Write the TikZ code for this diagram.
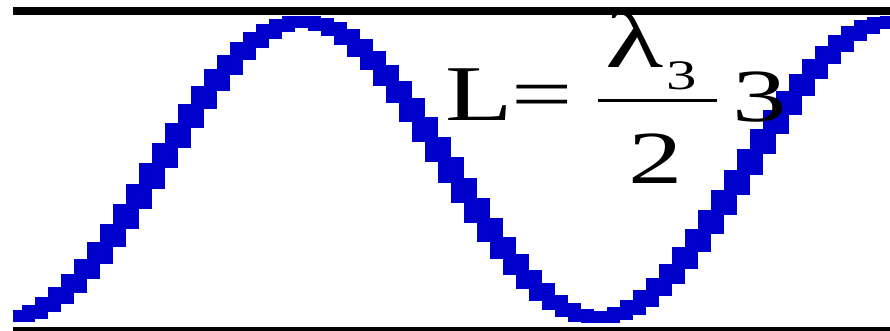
\documentclass[tikz,border=0pt]{standalone}
\usepackage{fontspec}
\setmainfont{Liberation Serif}
\usepackage{graphicx}
\definecolor{waveblue}{RGB}{0,0,205}
\begin{document}
\begin{tikzpicture}[x=1pt,y=-1pt,
  wave/.style={fill=waveblue},
  rule/.style={fill=black},
  bigtxt/.style={inner sep=0pt,outer sep=0pt,font=\fontsize{75}{80}\selectfont},
  ltxt/.style={inner sep=0pt,outer sep=0pt,font=\fontsize{79}{84}\selectfont},
  lamtxt/.style={inner sep=0pt,outer sep=0pt,font=\fontsize{80}{84}\selectfont},
  subtxt/.style={inner sep=0pt,outer sep=0pt,font=\fontsize{42}{46}\selectfont}]
\useasboundingbox[fill=white] (0,0) rectangle (890,331);
% horizontal rules
\fill[rule] (13,7) rectangle (890,15);
\fill[rule] (13,327) rectangle (890,332);
% stepped wave
\begin{scope}
\clip (13,0) rectangle (890,331);
\foreach \k in {0,...,67}{
  \pgfmathsetmacro\xc{22+13*\k}
  \pgfmathsetmacro\ang{(\xc-303.4)/294.5*180}
  \pgfmathsetmacro\yc{169.6-148*cos(\ang)}
  \pgfmathsetmacro\dy{148*(cos(\ang+6.5/294.5*180)-cos(\ang-6.5/294.5*180))}
  \pgfmathsetmacro\hh{sqrt(144+1.2*\dy*\dy)}
  \fill[wave] (\xc-13,\yc-\hh/2) rectangle (\xc+13,\yc+\hh/2);
}
\end{scope}
% formula
\node[ltxt,anchor=base west] (L) at (445,121) {\scalebox{1.40}[1]{L}};
\node[bigtxt,anchor=base west] (eq) at (511,120) {\scalebox{1.45}[1]{=}};
\node[lamtxt,anchor=base west] (lam) at (605,68) {\scalebox{1.5}[1]{λ}};
\node[subtxt,anchor=base west] (sub) at (666,90) {\scalebox{1.45}[1]{3}};
\fill[rule] (598,99) rectangle (717,102);
\node[bigtxt,anchor=base west] (two) at (628,183) {\scalebox{1.45}[1]{2}};
\node[bigtxt,anchor=base west] (three) at (732,122) {\scalebox{1.45}[1]{3}};
\end{tikzpicture}
\end{document}
